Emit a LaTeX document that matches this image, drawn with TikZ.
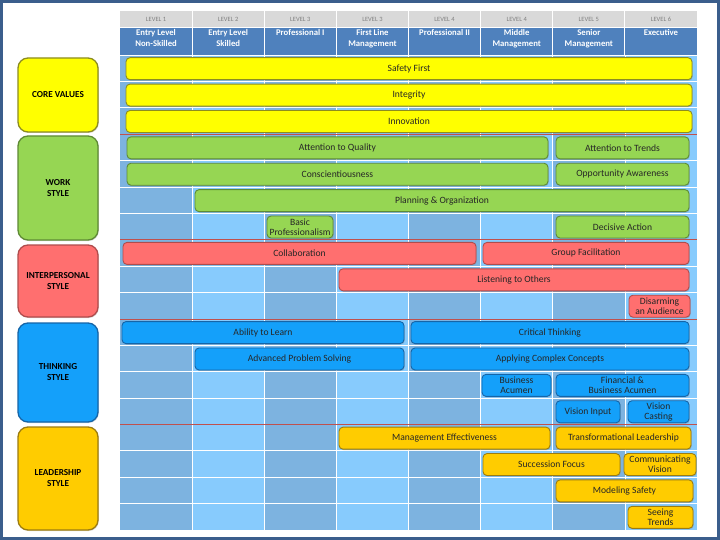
\documentclass[tikz,border=0pt]{standalone}
\usepackage{fontspec}
\setmainfont{Carlito}
\usetikzlibrary{shadows}
\definecolor{frame}{HTML}{3B5E8C}
\definecolor{hgray}{HTML}{D9D9D9}
\definecolor{hblue}{HTML}{4F81BD}
\definecolor{cdark}{HTML}{7DB3E0}
\definecolor{clight}{HTML}{87CBFD}
\definecolor{secline}{HTML}{C0504D}
\definecolor{cyel}{HTML}{FFFF00}\definecolor{cyelD}{HTML}{8C8C20}
\definecolor{cgrn}{HTML}{96D653}\definecolor{cgrnD}{HTML}{5E8A35}
\definecolor{cred}{HTML}{FF6F6F}\definecolor{credD}{HTML}{B04C4C}
\definecolor{cblu}{HTML}{14A0FA}\definecolor{cbluD}{HTML}{1565A8}
\definecolor{cgld}{HTML}{FFCC00}\definecolor{cgldD}{HTML}{9C7C10}
\definecolor{txt}{HTML}{262626}
\newcommand{\cbar}[6]{\node[#5, minimum width={(#3-#2)*1pt}] (#1) at ({(#2+#3)/2},{55.5+(#4-0.5)*26.39}) {#6};}
\tikzset{
  barbox/.style={draw, rounded corners=4pt, line width=0.9pt, minimum height=22pt,
    inner sep=0pt, align=center, font=\fontsize{9.6}{10}\selectfont, text=txt,
    drop shadow={shadow xshift=0.8pt, shadow yshift=-1pt, opacity=0.35}},
  ybar/.style={barbox, fill=cyel, draw=cyelD},
  gbar/.style={barbox, fill=cgrn, draw=cgrnD},
  rbar/.style={barbox, fill=cred, draw=credD},
  bbar/.style={barbox, fill=cblu, draw=cbluD},
  obar/.style={barbox, fill=cgld, draw=cgldD},
  catbox/.style={rounded corners=10pt, line width=1.3pt, minimum width=80pt,
    inner sep=0pt, align=center, font=\fontsize{9.2}{11}\selectfont\bfseries, text=black,
    drop shadow={shadow xshift=0.8pt, shadow yshift=-1pt, opacity=0.3}},
  lvl/.style={font=\fontsize{6.5}{7}\selectfont, text=gray, inner sep=0pt},
  ttl/.style={font=\fontsize{8.7}{10.5}\selectfont\bfseries, text=white, align=center, inner sep=0pt, anchor=north}
}
\begin{document}
\begin{tikzpicture}[x=1pt,y=-1pt]
\useasboundingbox (0,0) rectangle (720,540);
\fill[white] (0,0) rectangle (720,540);
% grid columns
\foreach \c in {0,2,4,6} \fill[cdark] ({120+72.125*\c},55) rectangle ({120+72.125*(\c+1)},530);
\foreach \c in {1,3,5,7} \fill[clight] ({120+72.125*\c},55) rectangle ({120+72.125*(\c+1)},530);
\foreach \r in {1,...,17} \draw[white, line width=0.8pt] (120,{55+\r*26.39}) -- (697,{55+\r*26.39});
\foreach \c in {1,...,7} \draw[white, line width=0.6pt] ({120+72.125*\c},55) -- ({120+72.125*\c},530);
\foreach \r in {3,7,10,14} \draw[secline, line width=0.6pt] (120,{55+\r*26.39}) -- (697,{55+\r*26.39});
% header
\fill[hgray] (120,11) rectangle (697,27);
\fill[hblue] (120,27.8) rectangle (697,55);
\draw[white, line width=0.8pt] (120,55.2) -- (697,55.2);
\foreach \c in {1,...,7} \draw[white, line width=0.8pt] ({120+72.125*\c},11) -- ({120+72.125*\c},55);
\foreach \c/\l in {1/LEVEL 1,2/LEVEL 2,3/LEVEL 3,4/LEVEL 3,5/LEVEL 4,6/LEVEL 4,7/LEVEL 5,8/LEVEL 6}
  \node[lvl] (h\c) at ({120+72.125*(\c-0.5)},19) {\l};
\node[ttl] (t1) at ({120+72.125*0.5},29.5) {Entry Level\\Non-Skilled};
\node[ttl] (t2) at ({120+72.125*1.5},29.5) {Entry Level\\Skilled};
\node[ttl] (t3) at ({120+72.125*2.5},29.5) {Professional I};
\node[ttl] (t4) at ({120+72.125*3.5},29.5) {First Line\\Management};
\node[ttl] (t5) at ({120+72.125*4.5},29.5) {Professional II};
\node[ttl] (t6) at ({120+72.125*5.5},29.5) {Middle\\Management};
\node[ttl] (t7) at ({120+72.125*6.5},29.5) {Senior\\Management};
\node[ttl] (t8) at ({120+72.125*7.5},29.5) {Executive};
% categories
\node[catbox, fill=cyel, draw=cyelD, minimum height=74pt] (core) at (58,95) {CORE VALUES};
\node[catbox, fill=cgrn, draw=cgrnD, minimum height=104pt] (work) at (58,188) {WORK\\STYLE};
\node[catbox, fill=cred, draw=credD, minimum height=72pt] (inter) at (58,281) {INTERPERSONAL\\STYLE};
\node[catbox, fill=cblu, draw=cbluD, minimum height=99pt] (think) at (58,372.5) {THINKING\\STYLE};
\node[catbox, fill=cgld, draw=cgldD, minimum height=103pt] (lead) at (58,478.5) {LEADERSHIP\\STYLE};
% bars
\cbar{sf}{126}{692}{1}{ybar}{Safety First}
\cbar{integ}{126}{692}{2}{ybar}{Integrity}
\cbar{innov}{126}{692}{3}{ybar}{Innovation}
\cbar{aq}{127}{548}{4}{gbar}{Attention to Quality}
\cbar{at}{556}{689}{4}{gbar}{Attention to Trends}
\cbar{consc}{127}{548}{5}{gbar}{Conscientiousness}
\cbar{oa}{556}{689}{5}{gbar}{Opportunity Awareness}
\cbar{po}{195}{689}{6}{gbar}{Planning \& Organization}
\cbar{bp}{267}{333}{7}{gbar}{Basic\\Professionalism}
\cbar{da}{556}{689}{7}{gbar}{Decisive Action}
\cbar{coll}{123}{476}{8}{rbar}{Collaboration}
\cbar{gf}{483}{689}{8}{rbar}{Group Facilitation}
\cbar{lo}{339}{689}{9}{rbar}{Listening to Others}
\cbar{dis}{629}{690}{10}{rbar}{Disarming\\an Audience}
\cbar{al}{122}{404}{11}{bbar}{Ability to Learn}
\cbar{ct}{411}{689}{11}{bbar}{Critical Thinking}
\cbar{aps}{195}{404}{12}{bbar}{Advanced Problem Solving}
\cbar{acc}{411}{689}{12}{bbar}{Applying Complex Concepts}
\cbar{ba}{482}{551}{13}{bbar}{Business\\Acumen}
\cbar{fba}{556}{689}{13}{bbar}{Financial \&\\Business Acumen}
\cbar{vi}{556}{620}{14}{bbar}{Vision Input}
\cbar{vc}{628}{689}{14}{bbar}{Vision\\Casting}
\cbar{me}{339}{550}{15}{obar}{Management Effectiveness}
\cbar{tl}{556}{691}{15}{obar}{Transformational Leadership}
\cbar{sfc}{483}{620}{16}{obar}{Succession Focus}
\cbar{cv}{624}{696}{16}{obar}{Communicating\\Vision}
\cbar{ms}{556}{693}{17}{obar}{Modeling Safety}
\cbar{st}{628}{693}{18}{obar}{Seeing\\Trends}
% outer frame
\draw[frame, line width=3pt] (1.5,1.5) rectangle (718.5,538.5);
\end{tikzpicture}
\end{document}
